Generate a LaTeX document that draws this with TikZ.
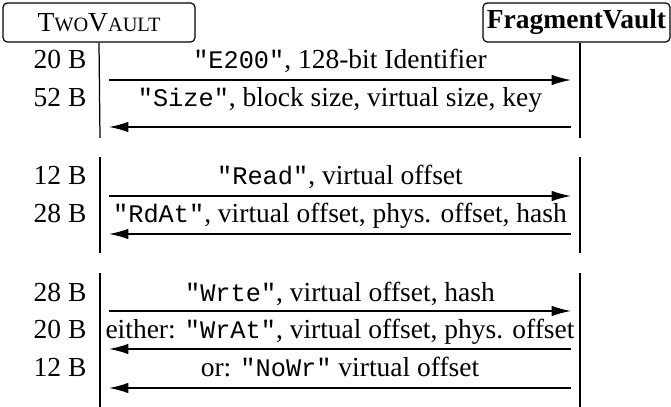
\documentclass[tikz,border=0pt]{standalone}
\usepackage{fontspec}
\setmainfont{Liberation Serif}
\setmonofont{Liberation Mono}[Scale=0.92]
\usetikzlibrary{arrows.meta}

\newcommand{\twovault}{T{\fontsize{7.4}{8}\selectfont WO}V{\fontsize{7.4}{8}\selectfont AULT}}

\begin{document}
\begin{tikzpicture}[x=0.3636pt, y=-0.3636pt, line width=0.45pt,
    party/.style = {draw, rounded corners=1.6pt, inner sep=0pt,
        minimum height=14.2pt},
    bytes/.style = {anchor=base east, inner sep=0pt},
    msgtext/.style = {anchor=base, inner sep=0pt},
    msg/.style = {-{Latex[length=7pt,width=3.8pt]},
        shorten <=3.3pt, shorten >=3.3pt}]

\useasboundingbox (0,0) rectangle (671,407);

% Parties
\node[party, minimum width=69.8pt] (tv) at (99,22.5) {\twovault};
\node[party, minimum width=68pt, font=\bfseries] (fv) at (576.5,22.5) {FragmentVault};

% Lifelines
\coordinate (tv1e) at (100,138);
\coordinate (fv1e) at (580,138);
\coordinate (tv2s) at (100,157);
\coordinate (tv2e) at (100,253);
\coordinate (fv2s) at (580,157);
\coordinate (fv2e) at (580,253);
\coordinate (tv3s) at (100,273);
\coordinate (tv3e) at (100,407);
\coordinate (fv3s) at (580,273);
\coordinate (fv3e) at (580,407);
\draw (tv.south) -- (tv1e);
\draw (tv.south -| fv1e) -- (fv1e);
\draw (tv2s) -- (tv2e);
\draw (fv2s) -- (fv2e);
\draw (tv3s) -- (tv3e);
\draw (fv3s) -- (fv3e);

% Message rows
\foreach \y [count=\i] in {80,127,196,234,311,349,388} {
    \coordinate (tvm\i) at (100,\y);
    \coordinate (fvm\i) at (580,\y);
}

% Identify
\node[bytes] (b1) at (87,69) {20 B};
\node[msgtext] (m1) at (340,69) {\texttt{"E200"}, 128-bit Identifier};
\draw[msg] (tvm1) -- (fvm1);
\node[bytes] (b2) at (87,106.5) {52 B};
\node[msgtext] (m2) at (340,106.5) {\texttt{"Size"}, block size, virtual size, key};
\draw[msg] (fvm2) -- (tvm2);

% Read
\node[bytes] (b3) at (87,184.5) {12 B};
\node[msgtext] (m3) at (340,184.5) {\texttt{"Read"}, virtual offset};
\draw[msg] (tvm3) -- (fvm3);
\node[bytes] (b4) at (87,222.5) {28 B};
\node[msgtext] (m4) at (340,222.5) {\texttt{"RdAt"}, virtual offset, phys. offset, hash};
\draw[msg] (fvm4) -- (tvm4);

% Write
\node[bytes] (b5) at (87,301.5) {28 B};
\node[msgtext] (m5) at (340,301.5) {\texttt{"Wrte"}, virtual offset, hash};
\draw[msg] (tvm5) -- (fvm5);
\node[bytes] (b6) at (87,338.5) {20 B};
\node[msgtext] (m6) at (340,338.5) {either: \texttt{"WrAt"}, virtual offset, phys. offset};
\draw[msg] (fvm6) -- (tvm6);
\node[bytes] (b7) at (87,376.5) {12 B};
\node[msgtext] (m7) at (340,376.5) {or: \texttt{"NoWr"} virtual offset};
\draw[msg] (fvm7) -- (tvm7);
\end{tikzpicture}
\end{document}
